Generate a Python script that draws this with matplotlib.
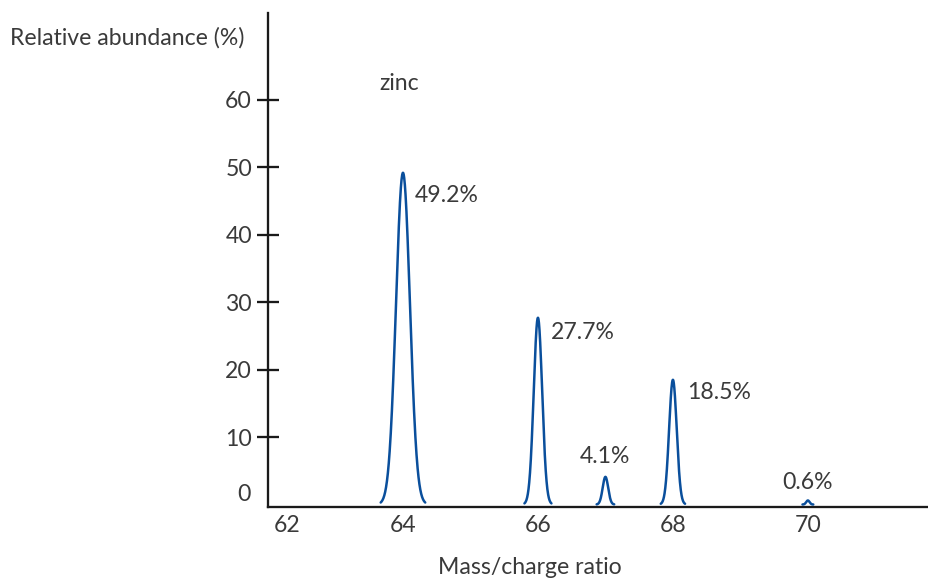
import numpy as np
import matplotlib
matplotlib.use("Agg")
import matplotlib.pyplot as plt
from matplotlib.transforms import ScaledTranslation

# ---- data ----
masses = [64, 66, 67, 68, 70]
abundance = [49.2, 27.7, 4.1, 18.5, 0.6]
labels = ["49.2%", "27.7%", "4.1%", "18.5%", "0.6%"]
peak_halfwidth = [0.33, 0.20, 0.13, 0.18, 0.08]
xtick_vals = [62, 64, 66, 68, 70]
ytick_vals = [10, 20, 30, 40, 50, 60]
element = "zinc"

# ---- style ----
FS = 23
TXT = "#3a3a3a"
LINE = "#0a4f9c"
WEIGHT = "normal"
plt.rcParams["font.family"] = ["Lato", "DejaVu Sans"]

fig = plt.figure(figsize=(928 / 72, 580 / 72), dpi=72)
W, H = 928, 580
ax = fig.add_axes([268 / W, (H - 507) / H, (W - 268) / W, (507 - 13) / H])

for m, a, hw in zip(masses, abundance, peak_halfwidth):
    x = np.linspace(m - hw, m + hw, 200)
    sig = hw / 3.2
    y = a * np.exp(-0.5 * ((x - m) / sig) ** 2)
    ax.plot(x, y, color=LINE, lw=2.5, solid_capstyle="round", zorder=3)

# label placement offsets (px == pt at 72 dpi)
offsets = [(12, -23, "left"), (13, -15, "left"), (0, 20, "center"),
           (14, -13, "left"), (0, 18, "center")]
for m, a, lab, (dx, dy, ha) in zip(masses, abundance, labels, offsets):
    ax.annotate(lab, xy=(m, a), xytext=(dx, dy), textcoords="offset points",
                ha=ha, va="center", fontsize=FS, color=TXT, fontweight=WEIGHT)

ax.set_xlim(62.08, 71.78)
ax.set_ylim(-0.37, 72.9)

for s in ["top", "right"]:
    ax.spines[s].set_visible(False)
for s in ["left", "bottom"]:
    ax.spines[s].set_linewidth(2.3)
    ax.spines[s].set_color("#1a1a1a")

ax.set_yticks(ytick_vals)
ax.set_yticklabels([str(v) for v in ytick_vals])
ax.tick_params(axis="y", direction="inout", length=22, width=2.3, color="#1a1a1a",
               pad=5, labelsize=FS, labelcolor=TXT)
ax.set_xticks(xtick_vals)
ax.set_xticklabels([str(v) for v in xtick_vals])
ax.tick_params(axis="x", length=0, pad=8, labelsize=FS, labelcolor=TXT)
for lab in ax.get_xticklabels() + ax.get_yticklabels():
    lab.set_fontweight(WEIGHT)
first = ax.get_xticklabels()[0]
first.set_transform(first.get_transform() + ScaledTranslation(19 / 72, 0, fig.dpi_scale_trans))

ax.annotate("0", xy=(0, 0), xycoords=("axes fraction", "data"), xytext=(-17, 10),
            textcoords="offset points", ha="right", va="center", fontsize=FS,
            color=TXT, fontweight=WEIGHT)

ax.text(63.94, 62.4, element, ha="center", va="center", fontsize=FS, color=TXT,
        fontweight=WEIGHT)

fig.text(10 / W, 1 - 38 / H, "Relative abundance (%)", ha="left", va="center",
         fontsize=FS, color=TXT, fontweight=WEIGHT)
fig.text(530 / W, 1 - 567 / H, "Mass/charge ratio", ha="center", va="center",
         fontsize=FS, color=TXT, fontweight=WEIGHT)

fig.savefig("out.png", dpi=72)
